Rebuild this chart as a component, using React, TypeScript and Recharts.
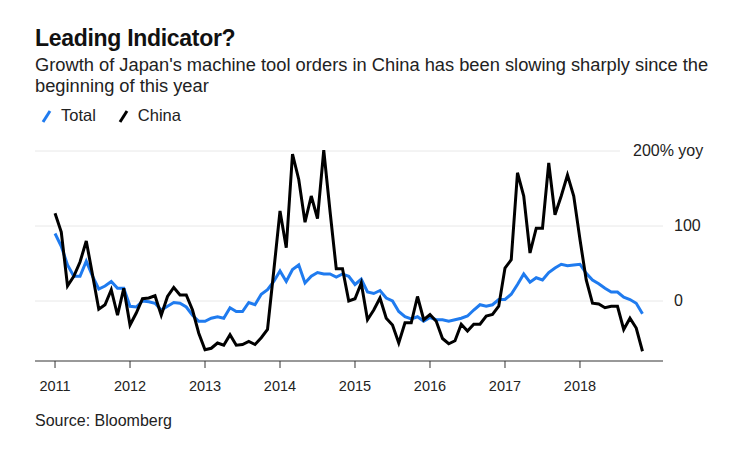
// Japan machine tool orders: Total vs China, yoy growth (monthly, 2011-2018)

import { LineChart, Line, XAxis, YAxis, ReferenceLine } from "recharts";

// ---------------------------------------------------------------------------
// DATA
// ---------------------------------------------------------------------------

const START_YEAR = 2011;
const yearTicks = [2011, 2012, 2013, 2014, 2015, 2016, 2017, 2018];
const valueTicks = [0, 100, 200];

// Total orders, % yoy, Jan 2011 .. Nov 2018
const totalValues = [
  90, 73, 48, 33, 33, 53, 33, 16, 20, 26, 17, 17,
  -7, -8, 0, -1, -3, -12, -7, -2, -3, -8, -19, -27,
  -27, -23, -21, -23, -9, -14, -14, -2, -5, 9, 15, 26,
  40, 26, 42, 48, 24, 33, 38, 36, 36, 32, 36, 33,
  22, 29, 12, 10, 14, 4, 0, -14, -21, -24, -21, -27,
  -22, -25, -25, -27, -25, -23, -20, -12, -5, -7, -5, 2,
  2, 9, 22, 36, 25, 31, 28, 38, 44, 49, 47, 48,
  49, 37, 28, 23, 17, 12, 12, 5, 2, -3, -17,
];

// Orders from China, % yoy, Jan 2011 .. Nov 2018
const chinaValues = [
  117, 92, 20, 33, 52, 80, 35, -11, -5, 15, -19, 17,
  -32, -16, 3, 4, 7, -19, 6, 18, 8, 8, -12, -43,
  -65, -63, -56, -59, -45, -59, -58, -54, -58, -49, -38, 40,
  120, 71, 196, 162, 105, 140, 110, 201, 120, 43, 43, 0,
  3, 24, -25, -12, 4, -23, -32, -56, -29, -29, 6, -25,
  -18, -27, -50, -57, -53, -31, -40, -31, -31, -20, -18, -7,
  44, 55, 171, 140, 64, 97, 97, 184, 115, 140, 168, 140,
  82, 28, -3, -4, -9, -7, -7, -38, -23, -36, -67,
];

const chartData = totalValues.map((total, i) => ({
  t: START_YEAR + i / 12,
  total,
  china: chinaValues[i],
}));

// ---------------------------------------------------------------------------
// STYLE
// ---------------------------------------------------------------------------

const FONT = '"Liberation Sans", Arial, sans-serif';
const BLUE = "#1f7bef";
const GRID = "#e8e8e8";
const X_MIN = 2010.733;
const X_MAX = 2019.107;

function YTick(props: any) {
  const { y, payload } = props;
  const v = payload.value;
  const top = v === 200;
  return (
    <text
      x={top ? 633 : 674}
      y={y}
      dy={5}
      textAnchor="start"
      fontSize={16}
      fontFamily={FONT}
      fill="#222"
    >
      {top ? "200% yoy" : String(v)}
    </text>
  );
}

function LegendItem({ color, label }: { color: string; label: string }) {
  return (
    <span style={{ display: "inline-flex", alignItems: "center", marginRight: 20 }}>
      <svg width={16} height={16} style={{ marginRight: 6 }}>
        <line x1={4} y1={14} x2={11} y2={3} stroke={color} strokeWidth={3} />
      </svg>
      {label}
    </span>
  );
}

export default function App() {
  return (
    <div
      style={{
        position: "absolute",
        left: 0,
        top: 0,
        width: 739,
        height: 464,
        background: "#fff",
        fontFamily: FONT,
        color: "#111",
      }}
    >
      <div style={{ position: "absolute", left: 35, top: 25, fontSize: 23, fontWeight: 700, letterSpacing: -0.3 }}>
        Leading Indicator?
      </div>
      <div style={{ position: "absolute", left: 35, top: 54, fontSize: 18.3, lineHeight: "21px", width: 710, color: "#222" }}>
        Growth of Japan's machine tool orders in China has been slowing sharply since the
        <br />
        beginning of this year
      </div>
      <div style={{ position: "absolute", left: 39, top: 106, fontSize: 16.5, color: "#222", display: "flex" }}>
        <LegendItem color={BLUE} label="Total" />
        <LegendItem color="#000" label="China" />
      </div>

      <div style={{ position: "absolute", left: 0, top: 0 }}>
        <LineChart
          width={739}
          height={400}
          data={chartData}
          margin={{ top: 139.75, right: 16, bottom: 9, left: 35 }}
        >
          <ReferenceLine y={0} stroke={GRID} strokeWidth={1} />
          <ReferenceLine y={100} stroke={GRID} strokeWidth={1} />
          <ReferenceLine
            segment={[
              { x: X_MIN, y: 200 },
              { x: 2018.533, y: 200 },
            ]}
            stroke={GRID}
            strokeWidth={1}
          />
          <XAxis
            dataKey="t"
            type="number"
            domain={[X_MIN, X_MAX]}
            ticks={yearTicks}
            tickFormatter={(v: number) => String(Math.round(v))}
            height={30}
            stroke="#333"
            tickSize={7}
            tickMargin={13}
            tick={{ fontSize: 14.5, fill: "#222", fontFamily: FONT }}
            allowDataOverflow
          />
          <YAxis
            orientation="right"
            domain={[-80, 215]}
            ticks={valueTicks}
            width={60}
            axisLine={false}
            tickLine={false}
            tick={<YTick />}
            allowDataOverflow
          />
          <Line
            type="linear"
            dataKey="total"
            stroke={BLUE}
            strokeWidth={3}
            dot={false}
            isAnimationActive={false}
          />
          <Line
            type="linear"
            dataKey="china"
            stroke="#000"
            strokeWidth={3}
            dot={false}
            isAnimationActive={false}
          />
        </LineChart>
      </div>

      <div style={{ position: "absolute", left: 35, top: 412, fontSize: 16, color: "#222" }}>
        Source: Bloomberg
      </div>
    </div>
  );
}
